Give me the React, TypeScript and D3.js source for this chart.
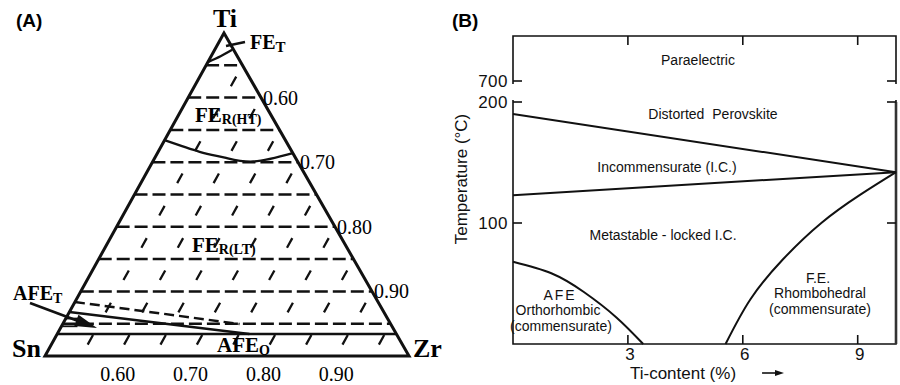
import React from "react";
import * as d3 from "d3";

// ---------- Panel A: Ti–Sn–Zr composition section ----------
// Vertices of the section: Ti0.5Zr0.5 (top), Sn0.5Zr0.5 (left), Zr1.0 (right)
const tiGrid = [0.45, 0.4, 0.35, 0.3, 0.25, 0.2, 0.15, 0.1, 0.05];
const zrGrid = [0.55, 0.6, 0.65, 0.7, 0.75, 0.8, 0.85, 0.9, 0.95];
const baseTickValues = [0.6, 0.7, 0.8, 0.9]; // Zr fraction along the Sn–Zr side
const edgeTickValues = [0.6, 0.7, 0.8, 0.9]; // Zr fraction along the Ti–Zr side

// Phase boundaries, each point as [Ti, Zr]
const feTBoundary: [number, number][] = [
  [0.455, 0.5],
  [0.464, 0.513],
  [0.474, 0.524],
];
const feRBoundary: [number, number][] = [
  [0.334, 0.5],
  [0.316, 0.557],
  [0.307, 0.596],
  [0.301, 0.638],
  [0.314, 0.686],
];
const afeOBoundary: [number, number][] = [
  [0.034, 0.5],
  [0.034, 0.966],
];
const afeTSolid: [number, number][] = [
  [0.068, 0.5],
  [0.034, 0.764],
];
const afeTDashed: [number, number][] = [
  [0.0836, 0.5],
  [0.0495, 0.743],
];
const afeTHatch = [0.058, 0.046];

// ---------- Panel B: temperature vs Ti content ----------
const xTicksB = [3, 6, 9];
const yTicksLow = [100, 200];
const yTickHigh = 700;
const upperTransition: [number, number][] = [
  [0, 190],
  [10, 142],
];
const lowerTransition: [number, number][] = [
  [0, 123],
  [10, 142],
];
const afeBoundary: [number, number][] = [
  [0, 68],
  [1, 58.5],
  [1.85, 43],
  [2.7, 22],
  [3.4, 0],
];
const feBoundary: [number, number][] = [
  [5.55, 0],
  [6.2, 37],
  [7.05, 70],
  [8.05, 100],
  [9.05, 123],
  [10, 142],
];

const serif = "'Liberation Serif', 'Times New Roman', serif";
const sans = "'Liberation Sans', Arial, sans-serif";

function arrowHead(x1: number, y1: number, x2: number, y2: number, len: number, half: number) {
  const a = Math.atan2(y2 - y1, x2 - x1);
  const bx = x2 - len * Math.cos(a);
  const by = y2 - len * Math.sin(a);
  const px = -Math.sin(a) * half;
  const py = Math.cos(a) * half;
  return `M${x2},${y2}L${bx + px},${by + py}L${bx - px},${by - py}Z`;
}

export default function App() {
  // ternary projection
  const apex = [224, 33];
  const snV = [45, 356];
  const zrV = [409, 356];
  const proj = (ti: number, zr: number): [number, number] => {
    const wA = ti / 0.5;
    const wZ = (zr - 0.5) / 0.5;
    const wS = 1 - wA - wZ;
    return [
      wA * apex[0] + wS * snV[0] + wZ * zrV[0],
      wA * apex[1] + wS * snV[1] + wZ * zrV[1],
    ];
  };
  const ternLine = d3
    .line<[number, number]>()
    .x((d) => proj(d[0], d[1])[0])
    .y((d) => proj(d[0], d[1])[1])
    .curve(d3.curveNatural);

  const edgeLen = Math.hypot(apex[0] - snV[0], apex[1] - snV[1]);
  const band = edgeLen * 0.1; // length of one 0.05-Ti band along a slanted line
  const dashLen = 11;
  const slantDash = `${dashLen} ${band - dashLen}`;
  const slantOffset = band / 2 + dashLen / 2;

  // panel B scales
  const x = d3.scaleLinear().domain([0, 10]).range([513, 896]);
  const yLow = d3.scaleLinear().domain([0, 200]).range([344, 102]);
  const yHigh = d3.scaleLinear().domain([700, 750]).range([81, 36]);
  const bLine = d3
    .line<[number, number]>()
    .x((d) => x(d[0]))
    .y((d) => yLow(d[1]))
    .curve(d3.curveNatural);

  const x0 = x.range()[0];
  const x1 = x.range()[1];
  const yTop = yHigh(750);
  const yBot = yLow(0);

  const tri = `M${apex[0]},${apex[1]}L${snV[0]},${snV[1]}L${zrV[0]},${zrV[1]}Z`;

  // arrow from the AFE_T label
  const ar = { x1: 30, y1: 303, x2: 97, y2: 328 };
  const arAngle = Math.atan2(ar.y2 - ar.y1, ar.x2 - ar.x1);

  return (
    <svg
      width={900}
      height={385}
      style={{ position: "absolute", left: 0, top: 0, background: "#fff" }}
    >
      <rect width={900} height={385} fill="#fff" />

      {/* ===== Panel A ===== */}
      <text x={16} y={27} fontFamily={sans} fontWeight="bold" fontSize={19}>
        (A)
      </text>

      {/* constant-Zr grid lines */}
      {zrGrid.map((z) => {
        const [ax, ay] = proj(0, z);
        const [bx, by] = proj(1 - z, z);
        return (
          <line
            key={"z" + z}
            x1={ax}
            y1={ay}
            x2={bx}
            y2={by}
            stroke="#111"
            strokeWidth={2.3}
            strokeDasharray={slantDash}
            strokeDashoffset={slantOffset}
          />
        );
      })}
      {/* constant-Ti grid lines */}
      {tiGrid.map((t) => {
        const [ax, ay] = proj(t, 0.5);
        const [bx, by] = proj(t, 1 - t);
        return (
          <line
            key={"t" + t}
            x1={ax}
            y1={ay}
            x2={bx}
            y2={by}
            stroke="#111"
            strokeWidth={2.5}
            strokeDasharray="13 5"
          />
        );
      })}

      {/* phase boundaries */}
      <path d={ternLine(feTBoundary) || ""} fill="none" stroke="#111" strokeWidth={2.4} />
      <path d={ternLine(feRBoundary) || ""} fill="none" stroke="#111" strokeWidth={2.4} />
      <path d={ternLine(afeOBoundary) || ""} fill="none" stroke="#111" strokeWidth={2.6} />
      <path d={ternLine(afeTSolid) || ""} fill="none" stroke="#111" strokeWidth={2.6} />
      <path
        d={ternLine(afeTDashed) || ""}
        fill="none"
        stroke="#111"
        strokeWidth={2.4}
        strokeDasharray="10 5"
      />
      {afeTHatch.map((t) => {
        const [ax, ay] = proj(t, 0.5);
        const [bx, by] = proj(t, 0.522);
        return <line key={"h" + t} x1={ax} y1={ay} x2={bx} y2={by} stroke="#111" strokeWidth={1.8} />;
      })}

      {/* outline */}
      <path d={tri} fill="none" stroke="#111" strokeWidth={3} strokeLinejoin="miter" />

      {/* vertex labels */}
      <text x={225} y={27} textAnchor="middle" fontFamily={serif} fontWeight="bold" fontSize={26}>
        Ti
      </text>
      <text x={12} y={357} fontFamily={serif} fontWeight="bold" fontSize={26}>
        Sn
      </text>
      <text x={413} y={357} fontFamily={serif} fontWeight="bold" fontSize={26}>
        Zr
      </text>

      {/* axis numbers */}
      {baseTickValues.map((z) => (
        <text
          key={"b" + z}
          x={proj(0, z)[0]}
          y={381}
          textAnchor="middle"
          fontFamily={serif}
          fontSize={20}
        >
          {z.toFixed(2)}
        </text>
      ))}
      {edgeTickValues.map((z) => {
        const [ex, ey] = proj(1 - z, z);
        return (
          <text key={"e" + z} x={ex + 2} y={ey + 7} fontFamily={serif} fontSize={20}>
            {z.toFixed(2)}
          </text>
        );
      })}

      {/* region labels */}
      <line x1={245} y1={42} x2={226} y2={46} stroke="#111" strokeWidth={2.4} />
      <text x={250} y={49} fontFamily={serif} fontWeight="bold" fontSize={20}>
        FE
        <tspan fontSize={15} dy={3}>
          T
        </tspan>
      </text>
      <text x={195} y={122} fontFamily={serif} fontWeight="bold" fontSize={21}>
        FE
        <tspan fontSize={14} dy={2}>
          R(HT)
        </tspan>
      </text>
      <text x={192} y={252} fontFamily={serif} fontWeight="bold" fontSize={21}>
        FE
        <tspan fontSize={14} dy={2}>
          R(LT)
        </tspan>
      </text>
      <text x={13} y={300} fontFamily={serif} fontWeight="bold" fontSize={20}>
        AFE
        <tspan fontSize={14} dy={3}>
          T
        </tspan>
      </text>
      <text x={217} y={352} fontFamily={serif} fontWeight="bold" fontSize={21}>
        AFE
        <tspan fontSize={14} dy={3}>
          O
        </tspan>
      </text>
      <line
        x1={ar.x1}
        y1={ar.y1}
        x2={ar.x2 - 18 * Math.cos(arAngle)}
        y2={ar.y2 - 18 * Math.sin(arAngle)}
        stroke="#111"
        strokeWidth={2.6}
      />
      <path d={arrowHead(ar.x1, ar.y1, ar.x2, ar.y2, 22, 6)} fill="#111" />

      {/* ===== Panel B ===== */}
      <text x={452} y={27} fontFamily={sans} fontWeight="bold" fontSize={19}>
        (B)
      </text>

      {/* frame with a break between 200 and 700 */}
      <g stroke="#111" fill="none">
        <path d={`M${x0},${yHigh(700) + 3}V${yTop}H${x1}V${yHigh(700) + 3}`} strokeWidth={1.6} />
        <path d={`M${x0},${yLow(200) - 2}V${yBot}H${x1}V${yLow(200) - 2}`} strokeWidth={1.6} />
        <line x1={x1} y1={yLow(200)} x2={x1} y2={yBot} strokeWidth={2.6} stroke="#333" />
        {/* ticks */}
        {xTicksB.map((t) => (
          <g key={"xt" + t}>
            <line x1={x(t)} x2={x(t)} y1={yTop} y2={yTop + 9} strokeWidth={1.6} />
            <line x1={x(t)} x2={x(t)} y1={yBot} y2={yBot - 9} strokeWidth={1.6} />
          </g>
        ))}
        {yTicksLow.map((t) => (
          <g key={"yt" + t}>
            <line x1={x0} x2={x0 + 9} y1={yLow(t)} y2={yLow(t)} strokeWidth={1.6} />
            <line x1={x1} x2={x1 - 9} y1={yLow(t)} y2={yLow(t)} strokeWidth={1.6} />
          </g>
        ))}
        <line x1={x0} x2={x0 + 9} y1={yHigh(yTickHigh)} y2={yHigh(yTickHigh)} strokeWidth={1.6} />
        <line x1={x1} x2={x1 - 9} y1={yHigh(yTickHigh)} y2={yHigh(yTickHigh)} strokeWidth={1.6} />
      </g>

      {/* transition lines */}
      <g fill="none" stroke="#111" strokeWidth={2}>
        <path d={bLine(upperTransition) || ""} />
        <path d={bLine(lowerTransition) || ""} />
        <path d={bLine(afeBoundary) || ""} />
        <path d={bLine(feBoundary) || ""} />
      </g>

      {/* tick labels */}
      <g fontFamily={sans} fontSize={17} fill="#111">
        {xTicksB.map((t) => (
          <text key={"xl" + t} x={x(t) + 2} y={360} textAnchor="middle">
            {t}
          </text>
        ))}
        {yTicksLow.map((t) => (
          <text key={"yl" + t} x={508} y={yLow(t) + 6} textAnchor="end" letterSpacing={0.5}>
            {t}
          </text>
        ))}
        <text x={508} y={yHigh(yTickHigh) + 6} textAnchor="end" letterSpacing={0.5}>
          {yTickHigh}
        </text>
        <text x={693} y={379} textAnchor="middle" dx={-10}>
          Ti-content (%)
        </text>
        <text transform="translate(467,179) rotate(-90)" textAnchor="middle">
          Temperature (°C)
        </text>
      </g>
      <line x1={762} y1={373} x2={776} y2={373} stroke="#111" strokeWidth={1.6} />
      <path d={arrowHead(762, 373, 784, 373, 9, 3)} fill="#111" />

      {/* region labels */}
      <g fontFamily={sans} fontSize={14} fill="#111" textAnchor="middle">
        <text x={698} y={65}>Paraelectric</text>
        <text x={713} y={119} wordSpacing={4}>
          Distorted Perovskite
        </text>
        <text x={667} y={172}>Incommensurate (I.C.)</text>
        <text x={663} y={240}>Metastable - locked I.C.</text>
        <text x={560} y={300} letterSpacing={2}>
          AFE
        </text>
        <text x={558} y={315}>Orthorhombic</text>
        <text x={561} y={331}>(commensurate)</text>
        <text x={818} y={283}>F.E.</text>
        <text x={820} y={298}>Rhombohedral</text>
        <text x={820} y={314}>(commensurate)</text>
      </g>
    </svg>
  );
}
